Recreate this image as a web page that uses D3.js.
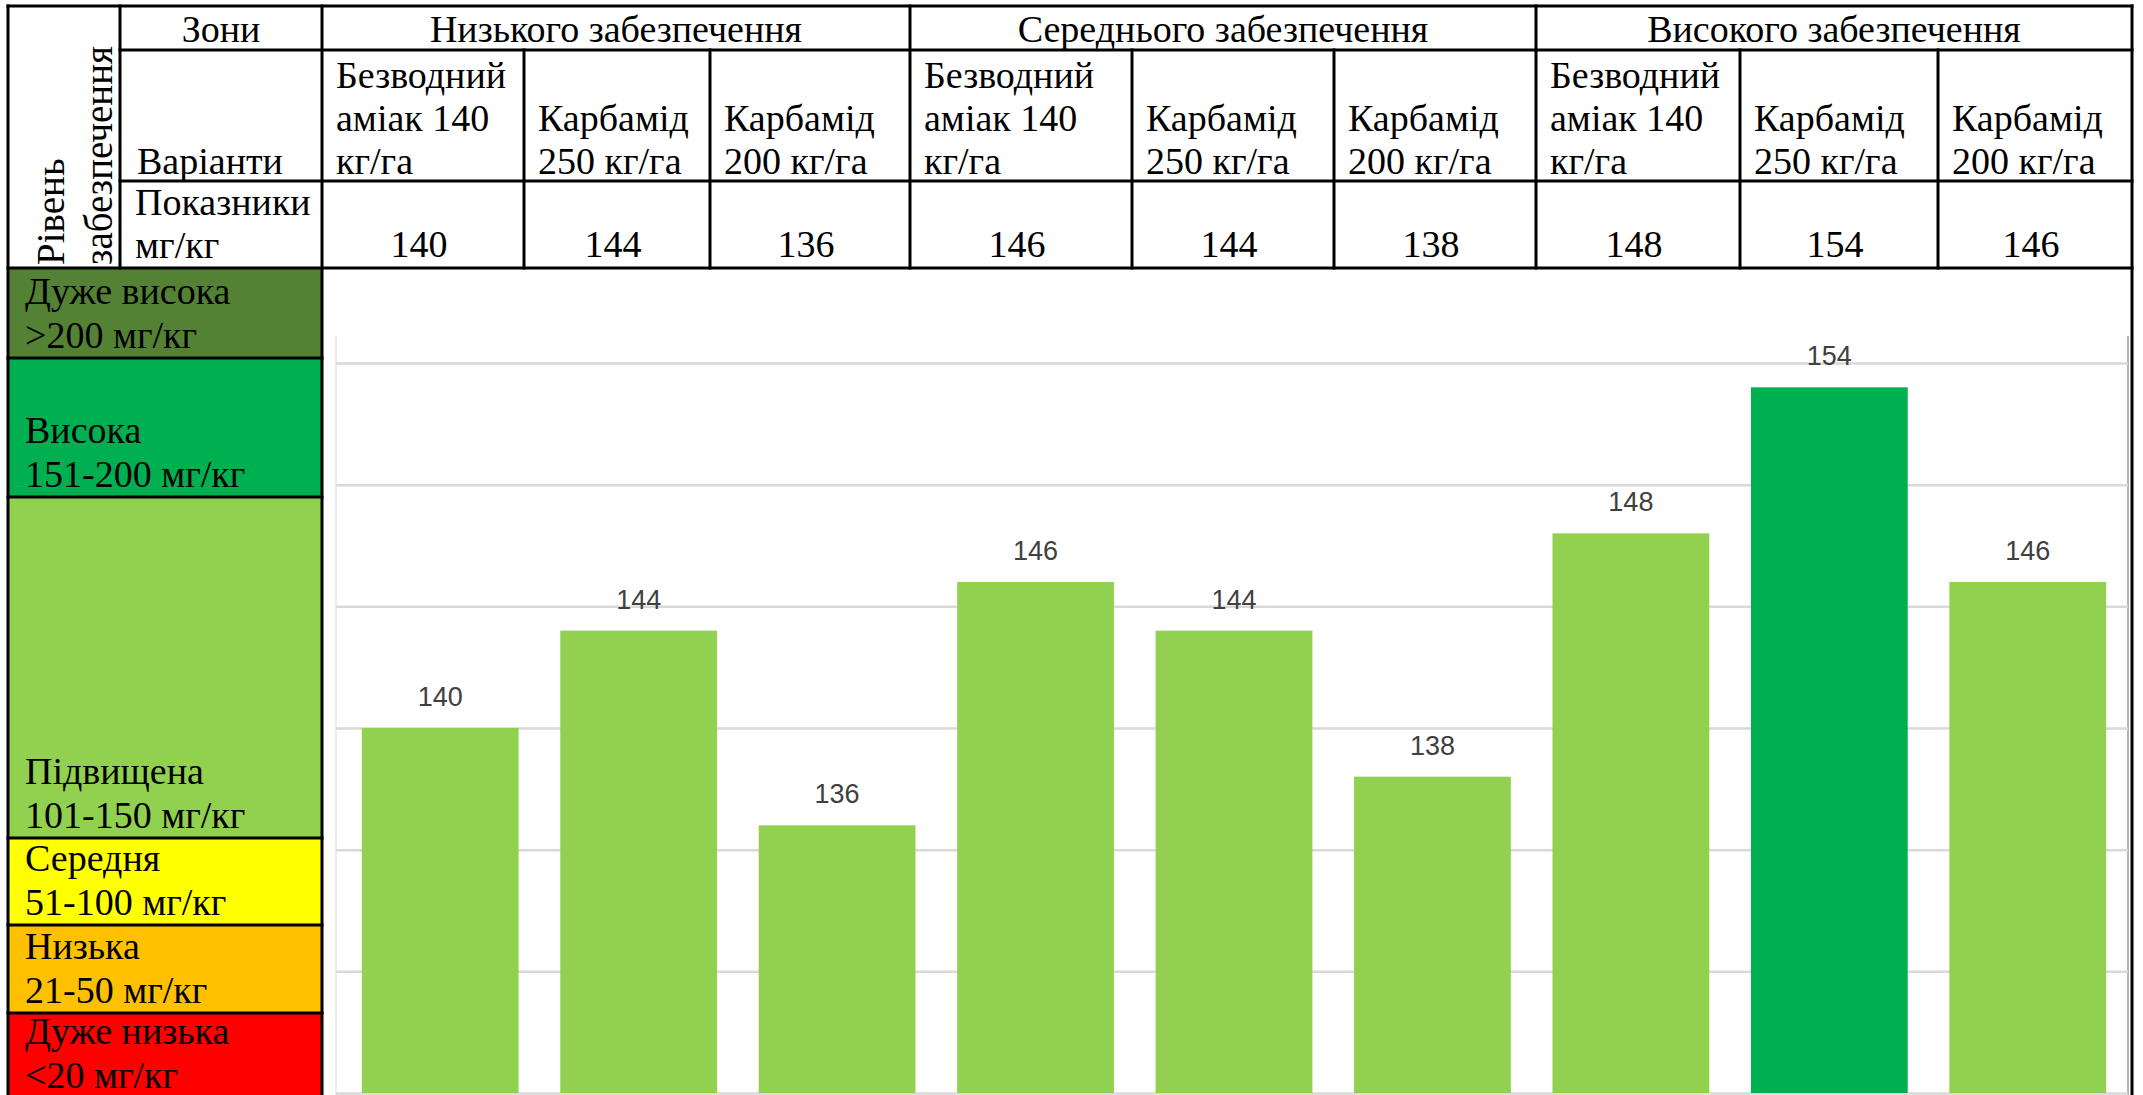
<!DOCTYPE html>
<html>
<head>
<meta charset="utf-8">
<script src="https://cdn.jsdelivr.net/npm/d3@7/dist/d3.min.js"></script>
<style>
  html, body { margin: 0; padding: 0; background: #fff; overflow: hidden; }
  svg { display: block; }
  .serif { font-family: 'Liberation Serif', 'Times New Roman', Times, 'DejaVu Serif', serif; }
</style>
</head>
<body>
<svg id="chart"></svg>
<script>
// --- data ---
const zones = ['Низького забезпечення', 'Середнього забезпечення', 'Високого забезпечення'];
const variantLines = [
  ['Безводний', 'аміак 140', 'кг/га'],
  ['Карбамід', '250 кг/га'],
  ['Карбамід', '200 кг/га']
];
const values = [140, 144, 136, 146, 144, 138, 148, 154, 146];
const levelNames  = ['Дуже висока', 'Висока', 'Підвищена', 'Середня', 'Низька', 'Дуже низька'];
const levelRanges = ['>200 мг/кг', '151-200 мг/кг', '101-150 мг/кг', '51-100 мг/кг', '21-50 мг/кг', '<20 мг/кг'];
const levelMin    = [201, 151, 101, 51, 21, 0];
const yTicks = [125, 130, 135, 140, 145, 150, 155];
const headRotated = ['Рівень', 'забезпечення'];
const headZones = 'Зони', headVariants = 'Варіанти', headUnits = ['Показники', 'мг/кг'];

// categories = every zone x variant
const categories = zones.flatMap(z => variantLines.map(v => z + ' — ' + v.join(' ')));

(function() {
  const W = 2143, H = 1095;
  const levelColors = ['#548235', '#00B050', '#92D050', '#FFFF00', '#FFC000', '#FF0000'];
  const FS = 38, LH = 43;

  // table layout
  const colX = [8, 120, 322, 524, 710, 910, 1132, 1334, 1536, 1740, 1938, 2132];
  const rowY = [6, 50, 181, 268];
  const bandY = [268, 358, 497, 838, 925, 1013, 1100];

  const svg = d3.select('#chart')
    .attr('width', W).attr('height', H)
    .attr('viewBox', `0 0 ${W} ${H}`)
    .style('background', '#fff');

  function multiText(x, yLast, lines, fs, anchor, lh) {
    const t = svg.append('text')
      .attr('class', 'serif')
      .attr('font-size', fs)
      .attr('fill', '#000')
      .attr('text-anchor', anchor || 'start');
    lines.forEach((ln, i) => {
      t.append('tspan')
        .attr('x', x)
        .attr('y', yLast - (lines.length - 1 - i) * (lh || LH))
        .text(ln);
    });
    return t;
  }

  // --- legend bands (level of supply) ---
  levelNames.forEach((name, i) => {
    svg.append('rect')
      .attr('x', colX[0]).attr('y', bandY[i])
      .attr('width', colX[2] - colX[0]).attr('height', bandY[i + 1] - bandY[i])
      .attr('fill', levelColors[i]);
    const last = Math.min(bandY[i + 1] - 10, H - 7);
    multiText(colX[0] + 17, last, [name, levelRanges[i]], FS, 'start', 44);
  });

  // --- bar chart ---
  const chartL = 336, chartR = 2128, chartT = 336;
  const x = d3.scaleBand()
    .domain(categories)
    .range([341, 2127])
    .paddingInner(0.21)
    .paddingOuter(0.105);
  const y = d3.scaleLinear().domain([125, 155]).range([1093, 363]);

  // faint frame of the pasted chart
  svg.append('line')
    .attr('x1', chartL).attr('x2', chartL).attr('y1', chartT).attr('y2', H)
    .attr('stroke', '#ededed').attr('stroke-width', 2);
  svg.append('line')
    .attr('x1', chartR).attr('x2', chartR).attr('y1', chartT).attr('y2', H)
    .attr('stroke', '#9a9a9a').attr('stroke-width', 1.5);

  const grid = svg.append('g')
    .attr('transform', `translate(${chartL},0)`)
    .call(d3.axisLeft(y).tickValues(yTicks).tickSize(-(chartR - chartL)).tickFormat(''));
  grid.select('.domain').remove();
  grid.selectAll('.tick line').attr('stroke', '#d9d9d9').attr('stroke-width', 2.5);

  svg.append('g').selectAll('rect')
    .data(values)
    .join('rect')
    .attr('x', (d, i) => x(categories[i]))
    .attr('y', d => y(d))
    .attr('width', x.bandwidth())
    .attr('height', d => y(125) - y(d))
    .attr('fill', d => d >= levelMin[1] ? '#00B050' : '#92D050');

  svg.append('g').selectAll('text')
    .data(values)
    .join('text')
    .attr('x', (d, i) => x(categories[i]) + x.bandwidth() / 2)
    .attr('y', d => y(d) - 22)
    .attr('text-anchor', 'middle')
    .attr('font-family', "'Liberation Sans Narrow', 'Liberation Sans', Arial, sans-serif")
    .attr('font-size', 27)
    .attr('fill', '#404040')
    .text(d => d);

  // --- header table text ---
  multiText((colX[1] + colX[2]) / 2, 42, [headZones], FS, 'middle');
  zones.forEach((z, k) => {
    multiText((colX[2 + k * 3] + colX[5 + k * 3]) / 2, 42, [z], FS, 'middle');
  });
  multiText(colX[1] + 17, 174, [headVariants], FS);
  multiText(colX[1] + 15, 258, headUnits, FS);
  categories.forEach((c, j) => {
    const lines = variantLines[j % 3];
    multiText(colX[2 + j] + 14, 174, lines, FS);
    multiText((colX[2 + j] + colX[3 + j]) / 2 - 4, 257, [String(values[j])], FS, 'middle');
  });
  headRotated.forEach((t, i) => {
    svg.append('text')
      .attr('class', 'serif')
      .attr('transform', `translate(${[64, 112][i]},265) rotate(-90)`)
      .attr('font-size', 39)
      .attr('fill', '#000')
      .text(t);
  });

  // --- table grid lines ---
  const lines = svg.append('g').attr('stroke', '#000').attr('stroke-width', 3)
    .attr('stroke-linecap', 'square');
  function ln(x1, y1, x2, y2) {
    lines.append('line').attr('x1', x1).attr('y1', y1).attr('x2', x2).attr('y2', y2);
  }
  ln(colX[0], rowY[0], colX[11], rowY[0]);
  ln(colX[1], rowY[1], colX[11], rowY[1]);
  ln(colX[1], rowY[2], colX[11], rowY[2]);
  ln(colX[0], rowY[3], colX[11], rowY[3]);
  ln(colX[0], rowY[0], colX[0], H + 5);
  ln(colX[1], rowY[0], colX[1], rowY[3]);
  ln(colX[2], rowY[0], colX[2], H + 5);
  ln(colX[11], rowY[0], colX[11], H + 5);
  [5, 8].forEach(c => ln(colX[c], rowY[0], colX[c], rowY[3]));
  [3, 4, 6, 7, 9, 10].forEach(c => ln(colX[c], rowY[1], colX[c], rowY[3]));
  bandY.slice(1, -1).forEach(b => ln(colX[0], b, colX[2], b));
})();
</script>
</body>
</html>
